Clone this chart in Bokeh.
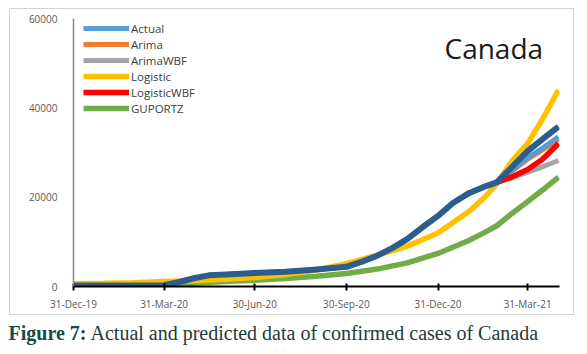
import pandas as pd
from bokeh.plotting import figure
from bokeh.layouts import column
from bokeh.models import (Legend, LegendItem, Label, FixedTicker,
                          BasicTickFormatter, Range1d)
from bokeh.embed import file_html
from bokeh.resources import INLINE

# ---------------- data ----------------
actual_dates = ["2019-12-31", "2020-01-31", "2020-02-29", "2020-03-31", "2020-04-15",
                "2020-05-01", "2020-05-15", "2020-06-01", "2020-06-30", "2020-07-31",
                "2020-08-31", "2020-09-30", "2020-10-15", "2020-10-31", "2020-11-15",
                "2020-11-30", "2020-12-15", "2020-12-31", "2021-01-15", "2021-01-31",
                "2021-02-15", "2021-02-28", "2021-03-15", "2021-03-31", "2021-04-15",
                "2021-05-01"]
actual_dark = [200, 200, 200, 300, 1000, 1900, 2500, 2700, 3000, 3300, 3800, 4400, 5500,
               6900, 8600, 10600, 13200, 15800, 18700, 20900, 22300, 23300, 26700, 30300,
               33000, 35800]

model_dates = ["2019-12-31", "2020-01-31", "2020-02-29", "2020-03-31", "2020-04-30",
               "2020-05-31", "2020-06-30", "2020-07-31", "2020-08-31", "2020-09-30",
               "2020-10-31", "2020-11-30", "2020-12-31", "2021-01-31", "2021-02-15",
               "2021-02-28", "2021-03-15", "2021-03-31", "2021-04-15", "2021-05-01"]
logistic = [600, 700, 850, 1100, 1300, 1600, 2000, 2700, 3700, 5100, 7000, 9000, 12000,
            16800, 19800, 23000, 28000, 32000, 37500, 44000]
guportz = [0, 0, 0, 100, 700, 1100, 1400, 1800, 2300, 2900, 3900, 5300, 7400, 10300,
           12000, 13600, 16300, 19000, 21600, 24500]

fc_dates = ["2021-02-28", "2021-03-15", "2021-03-31", "2021-04-15", "2021-05-01"]
actual_light_fc = [23300, 26000, 28800, 31000, 33500]
arima = [23300, 25800, 28500, 30600, 33000]
arima_wbf = [23300, 24300, 25600, 26800, 28200]
logistic_wbf = [23300, 24500, 26200, 28500, 32000]

tick_dates = ["2019-12-31", "2020-03-31", "2020-06-30", "2020-09-30", "2020-12-31", "2021-03-31"]
tick_labels = ["31-Dec-19", "31-Mar-20", "30-Jun-20", "30-Sep-20", "31-Dec-20", "31-Mar-21"]
y_ticks = [0, 20000, 40000, 60000]

series_names = ["Actual", "Arima", "ArimaWBF", "Logistic", "LogisticWBF", "GUPORTZ"]
colors = ["#5B9BD5", "#ED7D31", "#A5A5A5", "#FFC000", "#FF0000", "#70AD47"]


def ms(d):
    return pd.Timestamp(d).value / 1e6


ad = pd.to_datetime(actual_dates)
md = pd.to_datetime(model_dates)
fd = pd.to_datetime(fc_dates)

# ---------------- chart ----------------
p = figure(width=565, height=307, x_axis_type="datetime", output_backend="svg",
           toolbar_location=None,
           x_range=Range1d(ms("2019-12-31"), ms("2021-05-02")),
           y_range=Range1d(0, 60000),
           min_border_left=63, min_border_right=16, min_border_top=9,
           min_border_bottom=30)
p.margin = (8, 13, 0, 9)
p.styles = {"border": "1px solid #d4d4d4"}
p.frame_align = False
p.outline_line_color = None
p.xgrid.visible = False
p.ygrid.visible = False

cut = pd.Timestamp("2021-02-28")
light_dates = list(ad[ad < cut]) + list(fd)
light_vals = [v for d, v in zip(ad, actual_dark) if d < cut] + actual_light_fc

r_arima = p.line(fd, arima, line_color=colors[1], line_width=5)
r_actual = p.line(light_dates, light_vals, line_color=colors[0], line_width=5)
r_awbf = p.line(fd, arima_wbf, line_color=colors[2], line_width=5)
r_green = p.line(md, guportz, line_color=colors[5], line_width=5.5)
r_log = p.line(md, logistic, line_color=colors[3], line_width=5.5)
r_lwbf = p.line(fd, logistic_wbf, line_color=colors[4], line_width=5.5)
p.line(ad, actual_dark, line_color="#2B5D8D", line_width=6, line_join="round")

# axes
p.xaxis.ticker = FixedTicker(ticks=[ms(d) for d in tick_dates])
p.xaxis.major_label_overrides = {ms(d): l for d, l in zip(tick_dates, tick_labels)}
p.xaxis.axis_line_color = "black"
p.xaxis.axis_line_width = 2
p.xaxis.major_tick_line_color = "black"
p.xaxis.major_tick_line_width = 2
p.xaxis.major_tick_out = 4
p.xaxis.major_tick_in = 3
p.xaxis.minor_tick_line_color = None
p.xaxis.major_label_text_font = "Open Sans"
p.xaxis.major_label_text_font_size = "10px"
p.xaxis.major_label_text_color = "#595959"
p.xaxis.major_label_standoff = 6

p.yaxis.ticker = FixedTicker(ticks=y_ticks)
p.yaxis.formatter = BasicTickFormatter(use_scientific=False)
p.yaxis.axis_line_color = "#868686"
p.yaxis.axis_line_width = 1.5
p.yaxis.major_tick_line_color = None
p.yaxis.minor_tick_line_color = None
p.yaxis.major_label_text_font = "Open Sans"
p.yaxis.major_label_text_font_size = "10px"
p.yaxis.major_label_text_color = "#595959"
p.yaxis.major_label_standoff = 10

# legend
items = [LegendItem(label=series_names[i], renderers=[r]) for i, r in
         enumerate([r_actual, r_arima, r_awbf, r_log, r_lwbf, r_green])]
legend = Legend(items=items, location=(10, 170), orientation="vertical",
                glyph_width=46, glyph_height=16, label_height=16, spacing=0,
                padding=0, margin=0, label_standoff=2,
                label_text_font="Open Sans", label_text_font_size="11.5px",
                label_text_color="#404040", border_line_color=None,
                background_fill_alpha=0)
p.add_layout(legend, "center")

# title inside chart
p.add_layout(Label(x=371, y=220, x_units="screen", y_units="screen",
                   text="Canada", text_font="Open Sans", text_font_size="28px",
                   text_color="#1a1a1a"))

# ---------------- caption ----------------
cap = figure(width=587, height=39, output_backend="svg", toolbar_location=None,
             x_axis_location=None, y_axis_location=None,
             x_range=Range1d(0, 1), y_range=Range1d(0, 1),
             min_border=0, min_border_left=0, min_border_right=0,
             min_border_top=0, min_border_bottom=0)
cap.frame_align = False
cap.outline_line_color = None
cap.xgrid.visible = False
cap.ygrid.visible = False
cap.add_layout(Label(x=8, y=11, x_units="screen", y_units="screen", text="Figure 7:",
                     text_font="Liberation Serif", text_font_style="bold",
                     text_font_size="20px", text_color="#1b4a4a"))
cap.add_layout(Label(x=90, y=11, x_units="screen", y_units="screen",
                     text="Actual and predicted data of confirmed cases of Canada",
                     text_font="Liberation Serif", text_font_size="20px",
                     text_color="#243a3a"))

layout = column(p, cap, spacing=0)
open("out.html", "w").write(file_html(layout, INLINE))
